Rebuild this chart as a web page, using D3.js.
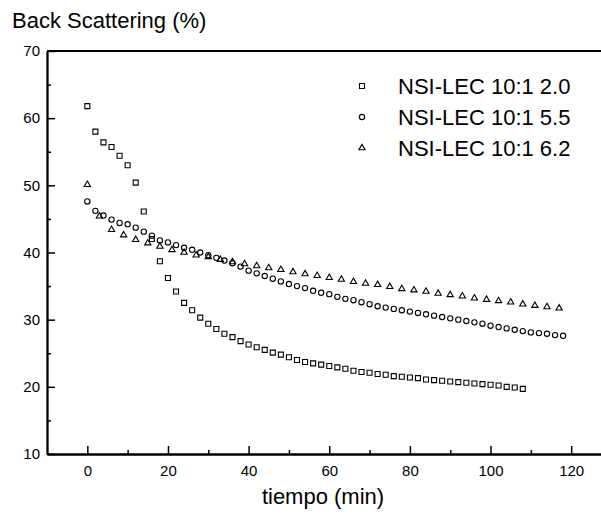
<!DOCTYPE html>
<html>
<head>
<meta charset="utf-8">
<script src="https://cdn.jsdelivr.net/npm/d3@7"></script>
<style>
  body { margin: 0; background: #fff; }
  text { font-family: "Liberation Sans", Arial, sans-serif; fill: #000; }
</style>
</head>
<body>
<div id="graphArea"></div>
<script>
// data
var seriesNames = ["NSI-LEC 10:1 2.0", "NSI-LEC 10:1 5.5", "NSI-LEC 10:1 6.2"];

var timeA = d3.range(0, 109, 2);
var valuesA = [61.8, 58.0, 56.4, 55.7, 54.4, 53.0, 50.4, 46.1, 42.0, 38.7,
  36.2, 34.2, 32.5, 31.4, 30.3, 29.4, 28.6, 27.9, 27.4, 26.8,
  26.3, 25.9, 25.5, 25.1, 24.8, 24.4, 24.0, 23.7, 23.5, 23.3,
  23.1, 22.9, 22.7, 22.4, 22.2, 22.1, 21.9, 21.8, 21.6, 21.5,
  21.4, 21.3, 21.1, 21.0, 20.9, 20.8, 20.7, 20.6, 20.5, 20.4,
  20.3, 20.2, 20.0, 19.9, 19.7];

var timeB = d3.range(0, 119, 2);
var valuesB = [47.6, 46.2, 45.5, 44.9, 44.4, 44.2, 43.7, 43.1, 42.5, 41.8,
  41.5, 41.1, 40.7, 40.4, 40.0, 39.6, 39.2, 38.8, 38.4, 37.9,
  37.3, 36.9, 36.5, 36.1, 35.7, 35.3, 35.0, 34.7, 34.3, 34.0,
  33.8, 33.4, 33.1, 32.9, 32.6, 32.3, 32.0, 31.8, 31.6, 31.4,
  31.2, 31.0, 30.8, 30.6, 30.4, 30.2, 30.0, 29.8, 29.6, 29.4,
  29.1, 28.9, 28.7, 28.5, 28.3, 28.1, 28.0, 27.9, 27.7, 27.6];

var timeC = d3.range(0, 118, 3);
var valuesC = [50.1, 45.4, 43.4, 42.6, 41.9, 41.4, 40.9, 40.4, 40.0, 39.6,
  39.35, 38.95, 38.6, 38.3, 38.0, 37.7, 37.45, 37.1, 36.8, 36.55,
  36.25, 36.0, 35.65, 35.4, 35.2, 34.9, 34.6, 34.4, 34.2, 33.9,
  33.7, 33.5, 33.2, 33.0, 32.8, 32.6, 32.3, 32.1, 31.9, 31.7];

var xMajor = [0, 20, 40, 60, 80, 100, 120];
var xMinor = [10, 30, 50, 70, 90, 110];
var yMajor = [10, 20, 30, 40, 50, 60, 70];
var yMinor = [15, 25, 35, 45, 55, 65];

var width = 601, height = 515;

var svg = d3.select("#graphArea").append("svg")
  .attr("width", width)
  .attr("height", height);

var x = d3.scaleLinear().domain([-10, 130]).range([47, 611.5]);
var y = d3.scaleLinear().domain([10, 70]).range([454, 51]);

// axes
var xAxis = svg.append("g")
  .attr("transform", "translate(0," + y(10) + ")")
  .call(d3.axisBottom(x).tickValues(xMajor).tickSize(-8).tickSizeOuter(0).tickPadding(11));
var xAxisMinor = svg.append("g")
  .attr("transform", "translate(0," + y(10) + ")")
  .call(d3.axisBottom(x).tickValues(xMinor).tickSize(-4).tickSizeOuter(0).tickFormat(""));

var yAxis = svg.append("g")
  .attr("transform", "translate(" + x(-10) + ",0)")
  .call(d3.axisLeft(y).tickValues(yMajor).tickSize(-8).tickSizeOuter(0).tickPadding(7));
var yAxisMinor = svg.append("g")
  .attr("transform", "translate(" + x(-10) + ",0)")
  .call(d3.axisLeft(y).tickValues(yMinor).tickSize(-4).tickSizeOuter(0).tickFormat(""));

svg.selectAll(".domain").attr("stroke", "#000").attr("stroke-width", 1.8);
svg.selectAll(".tick line").attr("stroke", "#000").attr("stroke-width", 1.5);
svg.selectAll(".tick text")
  .style("font-family", '"Liberation Sans", Arial, sans-serif')
  .style("font-size", "15px")
  .attr("fill", "#000");

// top frame line
svg.append("line")
  .attr("x1", x(-10)).attr("x2", width)
  .attr("y1", y(70)).attr("y2", y(70))
  .attr("stroke", "#000")
  .attr("stroke-width", 1.8);

// titles
svg.append("text")
  .text("Back Scattering (%)")
  .attr("x", 12)
  .attr("y", 28)
  .style("font-size", "22px");

svg.append("text")
  .text("tiempo (min)")
  .attr("x", 323)
  .attr("y", 504)
  .attr("text-anchor", "middle")
  .style("font-size", "22px");

// markers
var shapes = [
  d3.symbol().type(d3.symbolSquare).size(25),
  d3.symbol().type(d3.symbolCircle).size(22),
  d3.symbol().type(d3.symbolTriangle).size(17)
];

function drawSeries(times, vals, shape) {
  svg.append("g").selectAll("path")
    .data(times.map(function(t, i) { return [t, vals[i]]; }))
    .enter()
    .append("path")
    .attr("d", shape)
    .attr("transform", function(d) { return "translate(" + x(d[0]) + "," + y(d[1]) + ")"; })
    .attr("fill", "none")
    .attr("stroke", "#000")
    .attr("stroke-width", 1.1);
}

drawSeries(timeA, valuesA, shapes[0]);
drawSeries(timeB, valuesB, shapes[1]);
drawSeries(timeC, valuesC, shapes[2]);

// legend
var legend = svg.append("g");
seriesNames.forEach(function(name, i) {
  var ly = 86 + i * 31;
  legend.append("path")
    .attr("d", shapes[i])
    .attr("transform", "translate(362," + ly + ")")
    .attr("fill", "none")
    .attr("stroke", "#000")
    .attr("stroke-width", 1.1);
  legend.append("text")
    .text(name)
    .attr("x", 398)
    .attr("y", ly + 8)
    .style("font-size", "22px");
});
</script>
</body>
</html>
